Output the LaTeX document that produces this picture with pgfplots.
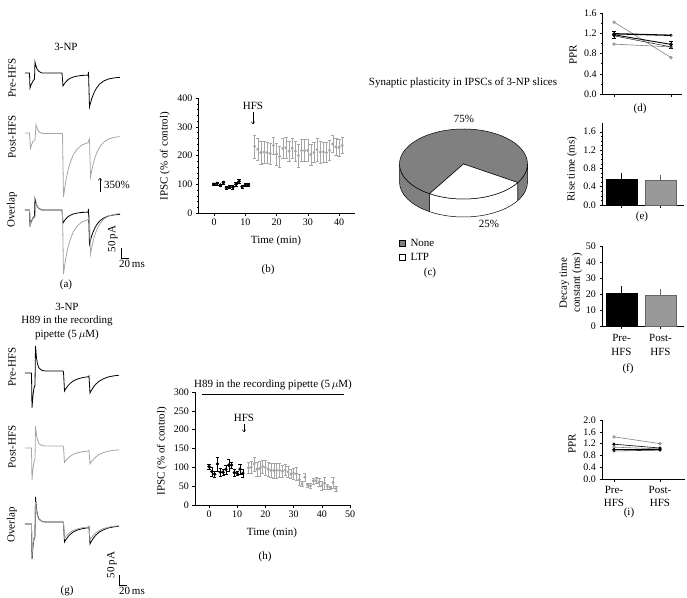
\documentclass[border=0pt]{standalone}
\usepackage{pgfplots}
\pgfplotsset{compat=1.18}
\usepackage{pgfplotstable}
\usetikzlibrary{arrows.meta}
\usepackage{fontspec}
\setmainfont{Liberation Serif}
\definecolor{lgray}{RGB}{165,165,165}
\definecolor{bargray}{RGB}{153,153,153}
\definecolor{piegray}{RGB}{128,128,128}

% ---------- (b) 3-NP time course ----------
\pgfplotstableread{
t v e
0 100 4
1 103 5
2 97 4
3 106 5
4 88 5
5 91 5
6 90 6
7 100 6
8 110 7
9 92 5
10 97 5
11 98 5
}\bpre
\pgfplotstableread{
t v e
13 232 40
14 222 38
15 210 40
16 212 38
17 210 38
18 207 36
19 235 30
20 205 38
21 197 36
22 225 35
23 227 35
24 215 35
25 225 35
26 215 36
27 200 40
28 217 38
29 217 38
30 218 38
31 203 35
32 210 35
33 220 40
34 212 38
35 212 36
36 210 35
37 218 35
38 240 30
39 230 30
40 228 30
41 235 28
}\bpost
% ---------- (h) H89 time course ----------
\pgfplotstableread{
t v e
0 102 6
1 89 12
2 82 8
3 109 18
4 87 10
5 87 8
6 95 12
7 106 15
8 106 8
9 86 10
10 84 6
11 95 14
12 84 10
}\hpre
\pgfplotstableread{
t v e
14 99 15
15 100 15
16 109 18
17 95 18
18 97 20
19 102 18
20 100 20
21 95 18
22 92 18
23 92 20
24 92 20
25 92 18
26 90 16
27 93 15
28 88 15
29 82 12
30 84 15
31 83 18
32 67 15
33 56 6
34 74 10
35 53 5
36 51 6
37 64 8
38 65 8
39 60 10
40 51 12
41 58 15
42 49 6
43 46 5
44 60 15
45 43 6
}\hpost
% ---------- pie (c) ----------
\pgfplotstableread{
cat val
None 75
LTP 25
}\piedata
% ---------- traces (ms, pA) ----------
\pgfplotstableread{
t I
0 0
11.25 0
12.5 -75
15 -60
20 -40
23.75 -30
25 55
27.5 35
30 20
35 7.5
42.5 0
92.5 0
95 -65
97.5 -57
100 -49.5
102.5 -43.5
107.5 -33.5
112.5 -27
120 -20.5
130 -15.5
142.5 -12
157.5 -11
158.75 5
161.25 -170
163.75 -150.5
166.25 -132.5
168.75 -117.5
173.75 -93.5
178.75 -75.5
186.25 -56
196.25 -40.5
208.75 -30
223.75 -24
237.5 -22
}\apre
\pgfplotstableread{
t I
0 0
11.25 0
13.75 -75
16.25 -60
20 -42.5
25 -35
27.5 40
30 25
32.5 12.5
37.5 2.5
45 -2.5
92.5 -2.5
93.75 -5
96.25 -320
98.75 -283.5
101.25 -250
103.75 -222
108.75 -177
113.75 -143.5
121.25 -107
131.25 -78
143.75 -58.5
157.5 -48.5
160 -35
161.25 -30
163.75 -220
166.25 -193.5
168.75 -169
171.25 -148.5
176.25 -115.5
181.25 -91
188.75 -64
198.75 -42.5
211.25 -28.5
226.25 -20.5
237.5 -18.5
}\apost
\pgfplotstableread{
t I
0 0
16.25 0
17.5 -175
20 -110
22.5 -75
25 -60
26.25 135
28.75 75
31.25 45
35 25
42.5 12.5
52.5 10
95 10
96.25 5
98.75 -90
101.25 -81
103.75 -73.5
108.75 -60.5
113.75 -50.5
121.25 -39
131.25 -30
143.75 -23
158.75 -18.5
160 -15
162.5 -100
165 -90
167.5 -81.5
172.5 -66.5
177.5 -55
185 -41.5
195 -30
207.5 -20
222.5 -14
235 -11
}\gpre
\pgfplotstableread{
t I
0 0
16.25 0
17.5 -160
20 -100
22.5 -70
25 -55
26.25 110
28.75 65
31.25 40
35 22
42.5 12
52.5 10
95 10
96.25 5
98.75 -72
101.25 -65
103.75 -59
108.75 -48.5
113.75 -40.5
121.25 -31
131.25 -24
143.75 -18.5
158.75 -15
160 -12
162.5 -80
165 -72
167.5 -65
172.5 -53
177.5 -44
185 -33
195 -24
207.5 -16
222.5 -11
235 -9
}\gpost

\pgfplotsset{
 panel/.style={scale only axis, anchor=south west,
   axis x line*=bottom, axis y line*=left,
   axis line style={line width=0.5pt},
   every tick/.style={black, line width=0.4pt},
   tick align=outside, major tick length=2.5pt, minor tick length=1.5pt,
   tick label style={font=\fontsize{10}{11}\selectfont},
   /pgf/number format/assume math mode=true,
   clip=false},
 onedec/.style={yticklabel style={/pgf/number format/.cd, fixed, fixed zerofill, precision=1}},
 trace/.style={scale only axis, hide axis, anchor=south west,
   xmin=0, xmax=240, ymin=-400, ymax=150, width=96pt, height=110pt, clip=false},
 blk/.style={black, line width=0.8pt},
 gry/.style={lgray, line width=0.8pt},
 ebar/.style={error bars/.cd, y dir=both, y explicit,
   error bar style={line width=0.4pt, #1},
   error mark options={rotate=90, mark size=1.6pt, line width=0.4pt, #1}},
}

\pgfplotstablegetelem{1}{val}\of\piedata
\pgfmathsetmacro{\aS}{238}
\pgfmathsetmacro{\aE}{238+3.6*\pgfplotsretval}

\begin{document}
\begin{tikzpicture}
\path[use as bounding box] (0,0) rectangle (687pt,-597pt);

% ================= (a) traces =================
\begin{axis}[trace, at={(25pt,-153pt)}]
\addplot[blk] table[x=t,y=I]{\apre};
\end{axis}
\begin{axis}[trace, at={(25pt,-213pt)}]
\addplot[gry] table[x=t,y=I]{\apost};
\end{axis}
\begin{axis}[trace, at={(25pt,-290pt)}]
\addplot[blk] table[x=t,y=I]{\apre};
\addplot[gry] table[x=t,y=I]{\apost};
\end{axis}

% ================= (g) traces =================
\begin{axis}[trace, at={(25pt,-453pt)}]
\addplot[blk] table[x=t,y=I]{\gpre};
\end{axis}
\begin{axis}[trace, at={(25pt,-528pt)}]
\addplot[gry] table[x=t,y=I]{\gpost};
\end{axis}
\begin{axis}[trace, at={(25pt,-604pt)}]
\addplot[blk] table[x=t,y=I]{\gpre};
\addplot[gry] table[x=t,y=I]{\gpost};
\end{axis}

% ================= (b) =================
\begin{axis}[panel, at={(198.4pt,-213pt)}, width=156.25pt, height=115pt,
  xmin=-5, xmax=45, ymin=0, ymax=400, xtick={0,10,20,30,40}, ytick={0,100,200,300,400},
  minor y tick num=4]
\addplot[only marks, black, mark=*, mark size=1.6pt, ebar=black] table[x=t,y=v,y error=e]{\bpre};
\addplot[only marks, lgray, mark=*, mark size=1.3pt, ebar=lgray] table[x=t,y=v,y error=e]{\bpost};
\end{axis}

% ================= (h) =================
\begin{axis}[panel, at={(194.9pt,-505pt)}, width=155.1pt, height=113pt,
  xmin=-5, xmax=50, ymin=0, ymax=300, xtick={0,10,20,30,40,50}, ytick={0,50,100,150,200,250,300}]
\addplot[only marks, black, mark=*, mark size=1.5pt, ebar=black] table[x=t,y=v,y error=e]{\hpre};
\addplot[only marks, lgray, mark=*, mark size=1.3pt, ebar=lgray] table[x=t,y=v,y error=e]{\hpost};
\end{axis}

% ================= (d) =================
\begin{axis}[panel, onedec, at={(602.6pt,-94pt)}, width=79.8pt, height=81pt,
  xmin=-0.2, xmax=1.2, ymin=0, ymax=1.6, ytick={0,0.4,0.8,1.2,1.6}, minor y tick num=1,
  xtick={0,1}, xticklabels={}]
\addplot[gray, line width=0.6pt, mark=o, mark size=1.3pt, mark options={fill=white}] coordinates {(0,1.42) (1,0.72)};
\addplot[gray, line width=0.6pt, mark=o, mark size=1.3pt, mark options={fill=white}] coordinates {(0,0.985) (1,0.93)};
\addplot[black!80, line width=0.6pt, mark=o, mark size=1.3pt, mark options={fill=white}] coordinates {(0,1.15) (1,0.93)};
\addplot[black, line width=1.3pt, mark=o, mark size=1.3pt, mark options={fill=white, line width=0.5pt}] coordinates {(0,1.19) (1,1.16)};
\addplot[black, line width=0.9pt, mark=*, mark size=1.4pt, ebar=black] coordinates {(0,1.17) +- (0,0.07) (1,0.98) +- (0,0.07)};
\end{axis}

% ================= (e) =================
\begin{axis}[panel, onedec, at={(602pt,-205pt)}, width=81.9pt, height=82.4pt,
  xmin=-0.5, xmax=1.6, ymin=0, ymax=1.8, ytick={0,0.4,0.8,1.2,1.6}, minor y tick num=3,
  xtick={0,1}, xticklabels={}]
\addplot[ybar, bar width=31pt, bar shift=0pt, fill=black, draw=black,
  error bars/.cd, y dir=plus, y explicit, error mark=none, error bar style={black, line width=0.6pt}]
  coordinates {(0,0.57) +- (0,0.13)};
\addplot[ybar, bar width=31pt, bar shift=0pt, fill=bargray, draw=black!60,
  error bars/.cd, y dir=plus, y explicit, error mark=none, error bar style={black!60, line width=0.6pt}]
  coordinates {(1,0.54) +- (0,0.12)};
\end{axis}

% ================= (f) =================
\begin{axis}[panel, at={(602pt,-326pt)}, width=81.9pt, height=80pt,
  xmin=-0.5, xmax=1.6, ymin=0, ymax=50, ytick={0,10,20,30,40,50},
  xtick={0,1}, xticklabels={Pre-\\HFS, Post-\\HFS},
  xticklabel style={align=center, yshift=-2pt, font=\fontsize{11}{14}\selectfont}]
\addplot[ybar, bar width=31pt, bar shift=0pt, fill=black, draw=black,
  error bars/.cd, y dir=plus, y explicit, error mark=none, error bar style={black, line width=0.6pt}]
  coordinates {(0,20.5) +- (0,4.5)};
\addplot[ybar, bar width=31pt, bar shift=0pt, fill=bargray, draw=black!60,
  error bars/.cd, y dir=plus, y explicit, error mark=none, error bar style={black!60, line width=0.6pt}]
  coordinates {(1,19.5) +- (0,3.5)};
\end{axis}

% ================= (i) =================
\begin{axis}[panel, onedec, at={(602pt,-479pt)}, width=82.8pt, height=59pt,
  xmin=-0.26, xmax=1.54, ymin=0, ymax=2.0, ytick={0,0.4,0.8,1.2,1.6,2.0},
  xtick={0,1}, xticklabels={Pre-\\HFS, Post-\\HFS},
  xticklabel style={align=center, yshift=-1pt, font=\fontsize{11}{13}\selectfont}]
\addplot[gray, line width=0.6pt, mark=o, mark size=1.3pt, mark options={fill=white}] coordinates {(0,1.43) (1,1.20)};
\addplot[gray, line width=0.6pt, mark=o, mark size=1.3pt, mark options={fill=white}] coordinates {(0,1.08) (1,1.02)};
\addplot[black!80, line width=0.6pt, mark=o, mark size=1.3pt, mark options={fill=white}] coordinates {(0,0.95) (1,0.98)};
\addplot[black, line width=0.6pt, mark=*, mark size=1.3pt] coordinates {(0,1.18) (1,1.05)};
\addplot[black, line width=0.6pt, mark=*, mark size=1.3pt] coordinates {(0,1.0) (1,1.0)};
\end{axis}

% ================= (c) pie =================
\begin{axis}[scale only axis, hide axis, anchor=south west, at={(0pt,-597pt)},
  width=687pt, height=597pt, xmin=0, xmax=687, ymin=-597, ymax=0, clip=false]
% side walls
\filldraw[fill=piegray, draw=black, line width=0.5pt] (axis cs:463.5,-164) ++(180:64pt and 35pt)
  arc[start angle=180, end angle=\aS, x radius=64pt, y radius=35pt] -- ++(0pt,-18pt)
  arc[start angle=\aS, end angle=180, x radius=64pt, y radius=35pt] -- cycle;
\filldraw[fill=white, draw=black, line width=0.5pt] (axis cs:463.5,-164) ++(\aS:64pt and 35pt)
  arc[start angle=\aS, end angle=\aE, x radius=64pt, y radius=35pt] -- ++(0pt,-18pt)
  arc[start angle=\aE, end angle=\aS, x radius=64pt, y radius=35pt] -- cycle;
\filldraw[fill=piegray, draw=black, line width=0.5pt] (axis cs:463.5,-164) ++(\aE:64pt and 35pt)
  arc[start angle=\aE, end angle=360, x radius=64pt, y radius=35pt] -- ++(0pt,-18pt)
  arc[start angle=360, end angle=\aE, x radius=64pt, y radius=35pt] -- cycle;
% top faces
\filldraw[fill=piegray, draw=black, line width=0.5pt] (axis cs:463.5,-164) -- ++(\aE:64pt and 35pt)
  arc[start angle=\aE, end angle=\aS+360, x radius=64pt, y radius=35pt] -- cycle;
\filldraw[fill=white, draw=black, line width=0.5pt] (axis cs:463.5,-164) -- ++(\aS:64pt and 35pt)
  arc[start angle=\aS, end angle=\aE, x radius=64pt, y radius=35pt] -- cycle;
\end{axis}

% ================= annotations (pixel coordinates) =================
\begin{scope}[x=1pt, y=-1pt, font=\fontsize{11}{13}\selectfont]
% (a)
\node at (66,47) {3-NP};
\node[rotate=90] at (12,78) {Pre-HFS};
\node[rotate=90] at (12,137) {Post-HFS};
\node[rotate=90] at (12,210) {Overlap};
\draw[-{To[length=2.5pt,width=4pt]}, line width=0.5pt] (100,192) -- (100,178);
\node[anchor=west, inner sep=0pt] at (104,185) {350\%};
\node[rotate=90] at (113,239) {50\,pA};
\draw[line width=0.6pt] (121,248) -- (121,258) -- (129,258);
\node at (132,264) {20\,ms};
\node at (66,285) {(a)};
% (g)
\node at (67,307) {3-NP};
\node at (67,321) {H89 in the recording};
\node at (67,335) {pipette (5\,$\mu$M)};
\node[rotate=90] at (12,367) {Pre-HFS};
\node[rotate=90] at (12,447) {Post-HFS};
\node[rotate=90] at (12,525) {Overlap};
\node[rotate=90] at (112,565) {50\,pA};
\draw[line width=0.6pt] (119,575) -- (119,585) -- (127,585);
\node at (132,591) {20\,ms};
\node at (67,591) {(g)};
% (b)
\node[rotate=90] at (165,156) {IPSC (\% of control)};
\node at (276,241) {Time (min)};
\node at (268,270) {(b)};
\node at (253,106) {HFS};
\draw[-{To[length=2.5pt,width=4pt]}, line width=0.5pt] (253,112) -- (253,124);
% (h)
\node at (273,385) {H89 in the recording pipette (5\,$\mu$M)};
\draw[line width=0.5pt] (202,394) -- (344,394);
\node[rotate=90] at (162,451) {IPSC (\% of control)};
\node at (272,533) {Time (min)};
\node at (265,557) {(h)};
\node at (244,418) {HFS};
\draw[-{To[length=2.5pt,width=4pt]}, line width=0.5pt] (244,424) -- (244,432);
% (c)
\node at (463,83) {Synaptic plasticity in IPSCs of 3-NP slices};
\node at (464,119) {75\%};
\node at (489,224) {25\%};
\filldraw[fill=piegray, draw=black, line width=0.4pt] (399,240) rectangle (405,246);
\node[anchor=west] at (407,243) {None};
\filldraw[fill=white, draw=black, line width=0.4pt] (399,254) rectangle (405,260);
\node[anchor=west] at (407,257) {LTP};
\node at (430,273) {(c)};
% right column
\node[rotate=90] at (573,55) {PPR};
\node at (640,109) {(d)};
\node[rotate=90] at (572,169) {Rise time (ms)};
\node at (642,217) {(e)};
\node[rotate=90, align=center] at (571,283) {Decay time\\constant (ms)};
\node at (628,369) {(f)};
\node[rotate=90] at (572,444) {PPR};
\node at (629,513) {(i)};
\end{scope}
\end{tikzpicture}
\end{document}
